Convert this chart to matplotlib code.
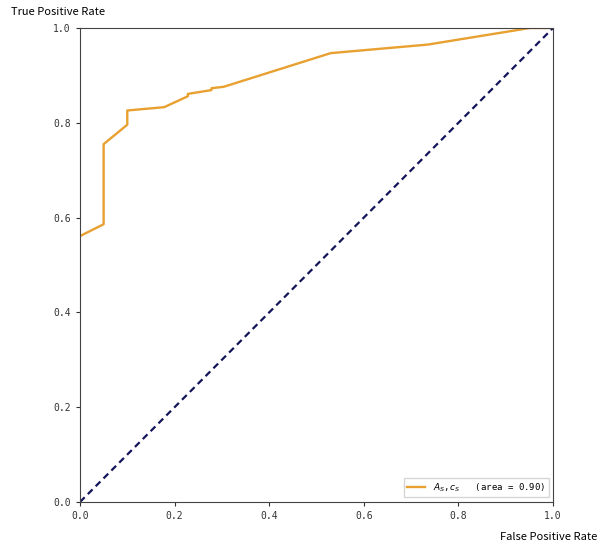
import matplotlib
matplotlib.use("Agg")
import matplotlib.pyplot as plt

plt.rcParams['font.family'] = ['Noto Sans CJK SC', 'DejaVu Sans']

# ROC curve
fpr = [0.0, 0.050, 0.050, 0.100, 0.100, 0.178, 0.228, 0.228, 0.278, 0.278, 0.304, 0.530, 0.735, 0.951, 1.0]
tpr = [0.561, 0.586, 0.755, 0.796, 0.826, 0.833, 0.856, 0.861, 0.869, 0.873, 0.876, 0.947, 0.965, 1.0, 1.0]
roc_auc = 0.90
ticks = [0.0, 0.2, 0.4, 0.6, 0.8, 1.0]

fig = plt.figure(figsize=(6, 5.46), dpi=100)
ax = fig.add_axes([0.1333, 0.0806, 0.7884, 0.8681])

ax.plot(fpr, tpr, color='#e8a030', lw=1.7,
        label='$A_S$,$c_S$   (area = %0.2f)' % roc_auc)
ax.plot([0, 1], [0, 1], color='#14145a', lw=1.6, dashes=(3, 2))

ax.set_xlim(0.0, 1.0)
ax.set_ylim(0.0, 1.0)
ax.set_xticks(ticks)
ax.set_yticks(ticks)
ax.set_xticklabels(['%.1f' % t for t in ticks], family='DejaVu Sans Mono')
ax.set_yticklabels(['%.1f' % t for t in ticks], family='DejaVu Sans Mono')
ax.tick_params(labelsize=7, length=3, colors='#333333')
for s in ax.spines.values():
    s.set_color('#444444')

fig.text(0.018, 0.978, 'True Positive Rate', fontsize=8, ha='left', va='center')
fig.text(0.995, 0.016, 'False Positive Rate', fontsize=8, ha='right', va='center')

ax.legend(loc='lower right', handlelength=2.0, fancybox=False,
          prop={'family': 'DejaVu Sans Mono', 'size': 6.5})

fig.savefig('out.png', dpi=100)
